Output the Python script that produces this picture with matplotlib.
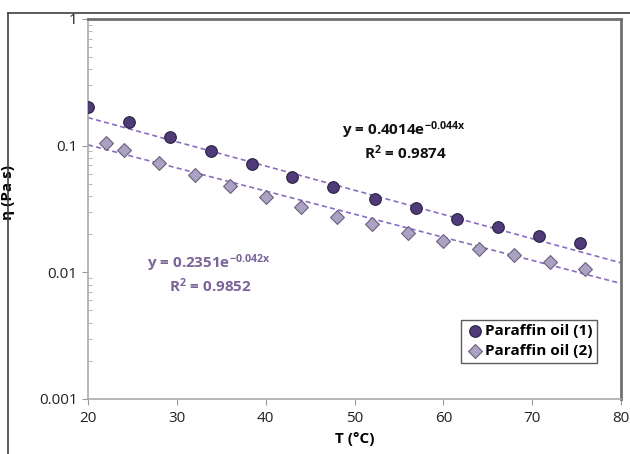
import matplotlib
matplotlib.use("Agg")
import matplotlib.pyplot as plt
from matplotlib.lines import Line2D
import numpy as np

# data
temp_1 = [20, 24.6, 29.2, 33.8, 38.5, 43.0, 47.6, 52.3, 56.9, 61.5, 66.2, 70.8, 75.4]
eta_1 = [0.202, 0.154, 0.117, 0.091, 0.0717, 0.0566, 0.0472, 0.0379, 0.0322, 0.0264, 0.0228, 0.0194, 0.0171]
temp_2 = [22, 24, 28, 32, 36, 40, 44, 48, 52, 56, 60, 64, 68, 72, 76]
eta_2 = [0.105, 0.0924, 0.073, 0.0587, 0.048, 0.0393, 0.0328, 0.0273, 0.0241, 0.0205,
         0.0177, 0.0153, 0.0137, 0.0121, 0.0106]
labels = ["Paraffin oil (1)", "Paraffin oil (2)"]
# exponential trendlines y = a*exp(b*x)
fit_a = [0.4014, 0.2351]
fit_b = [-0.044, -0.042]
fit_r2 = [0.9874, 0.9852]

plt.rcParams['font.family'] = ['Open Sans', 'DejaVu Sans']
plt.rcParams['mathtext.default'] = 'regular'

W, H = 630, 454
fig = plt.figure(figsize=(W/100, H/100), dpi=100)
ax = fig.add_axes([88/W, 1-399/H, (621-88)/W, (399-19)/H])

# outer chart border (cropped on right and bottom)
fig.add_artist(Line2D([8/W, 8/W], [0, 1-13/H], transform=fig.transFigure, color='#404040', lw=1.2))
fig.add_artist(Line2D([8/W, 1], [1-13/H, 1-13/H], transform=fig.transFigure, color='#404040', lw=1.2))

# trendlines
xx = np.linspace(20, 80, 100)
for a, b in zip(fit_a, fit_b):
    ax.plot(xx, a*np.exp(b*xx), linestyle=(0, (3, 2)), color='#8a6cc0', lw=1.2, zorder=2)

ax.scatter(temp_1, eta_1, s=70, marker='o', color='#4e3b78', edgecolor='#2b2040', lw=0.8, zorder=3, label=labels[0])
ax.scatter(temp_2, eta_2, s=50, marker='D', color='#aaa2c0', edgecolor='#6a6080', lw=0.8, zorder=3, label=labels[1])

ax.set_yscale('log')
ax.set_xlim(20, 80)
ax.set_ylim(0.001, 1)
ax.set_xticks(np.arange(20, 81, 10))
ax.set_yticks([0.001, 0.01, 0.1, 1])
ax.set_yticklabels(['0.001', '0.01', '0.1', '1'])
ax.tick_params(axis='both', which='major', direction='out', length=4, color='#999999', labelsize=11, labelcolor='#222222')
ax.tick_params(axis='y', which='minor', direction='in', length=3, color='#aaaaaa')
ax.tick_params(axis='x', which='major', pad=5)

for s in ['left', 'bottom']:
    ax.spines[s].set_color('#aaaaaa')
    ax.spines[s].set_linewidth(1.2)
for s in ['top', 'right']:
    ax.spines[s].set_color('#707070')
    ax.spines[s].set_linewidth(2)

ax.set_xlabel('T (°C)', fontsize=11, fontweight='bold', labelpad=4)
ax.set_ylabel('η (Pa s)', fontsize=11, fontweight='bold')
ax.yaxis.set_label_coords((15-88)/(621-88), (399-193)/(399-19))

# trendline equations (pixel positions from top-left)
eq_pos = [(404, 130), (209, 263)]
eq_col = ['#111111', '#7a6498']
for i in range(2):
    x, y = eq_pos[i]
    fig.text(x/W, 1-y/H, 'y = %.4fe$^{%.3fx}$' % (fit_a[i], fit_b[i]), fontsize=11,
             fontweight='bold', color=eq_col[i], ha='center', va='center')
    fig.text((x+1)/W, 1-(y+23)/H, 'R$^2$ = %.4f' % fit_r2[i], fontsize=11,
             fontweight='bold', color=eq_col[i], ha='center', va='center')

leg = ax.legend(loc='lower right', bbox_to_anchor=(0.97, 0.075), frameon=True,
                fancybox=False, edgecolor='#333333', handletextpad=0.1, borderpad=0.3,
                labelspacing=0.4, handlelength=1.2, prop={'weight': 'bold', 'size': 11})
leg.get_frame().set_linewidth(1.0)

fig.savefig('out.png', dpi=100)
